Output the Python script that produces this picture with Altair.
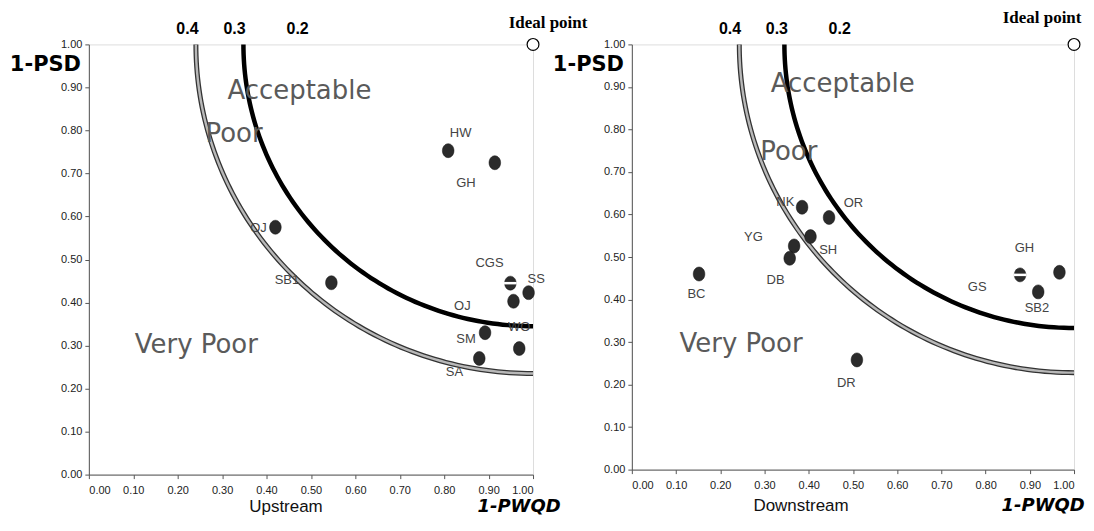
import numpy as np
import pandas as pd
import altair as alt

# ---------------- data ----------------
# Upstream panel
up_pt_x = [0.809, 0.914, 0.420, 0.546, 0.949, 0.956, 0.990, 0.892, 0.969, 0.879]
up_pt_y = [0.753, 0.725, 0.575, 0.446, 0.445, 0.403, 0.423, 0.330, 0.293, 0.270]
up_pt_half = [False, False, False, False, True, False, False, False, False, False]
up_lab_text = ["HW", "GH", "OJ", "SB1", "CGS", "OJ", "SS", "SM", "WO", "SA"]
up_lab_x = [0.837, 0.849, 0.382, 0.446, 0.902, 0.841, 1.007, 0.849, 0.969, 0.823]
up_lab_y = [0.794, 0.678, 0.574, 0.453, 0.493, 0.393, 0.455, 0.315, 0.342, 0.239]

# Downstream panel
dn_pt_x = [0.385, 0.446, 0.404, 0.367, 0.357, 0.152, 0.878, 0.967, 0.919, 0.509]
dn_pt_y = [0.617, 0.593, 0.548, 0.526, 0.497, 0.460, 0.458, 0.464, 0.418, 0.258]
dn_pt_half = [False, False, False, False, False, False, True, False, False, False]
dn_lab_text = ["NK", "OR", "SH", "YG", "DB", "BC", "GH", "GS", "SB2", "DR"]
dn_lab_x = [0.347, 0.501, 0.444, 0.275, 0.325, 0.146, 0.888, 0.781, 0.916, 0.485]
dn_lab_y = [0.630, 0.626, 0.517, 0.548, 0.447, 0.414, 0.521, 0.430, 0.380, 0.204]

# iso-distance curves around the ideal point (1,1): [rx, ry]
up_thick_r = [0.652, 0.655]
up_gray_r = [0.759, 0.765]
dn_thick_r = [0.655, 0.667]
dn_gray_r = [0.757, 0.772]

# distance labels above the top border
dist_text = ["0.4", "0.3", "0.2"]
dist_x = [0.222, 0.328, 0.470]

# zone labels [text, x-center, y-center]
zone_text = ["Acceptable", "Poor", "Very Poor"]
up_zone_x = [0.474, 0.327, 0.242]
up_zone_y = [0.891, 0.792, 0.301]
dn_zone_x = [0.477, 0.355, 0.247]
dn_zone_y = [0.906, 0.747, 0.295]

ticks = [round(i * 0.1, 1) for i in range(11)]

ELLIPSE = "M0,-1 A0.83,1 0 1,1 0,1 A0.83,1 0 1,1 0,-1 Z"
SANS = "Liberation Sans"
NARROW = "Liberation Sans Narrow, Arial Narrow, Liberation Sans"


def arc(r):
    t = np.linspace(0, np.pi / 2, 91)
    return pd.DataFrame({"x": 1 - r[0] * np.cos(t), "y": 1 - r[1] * np.sin(t), "o": np.arange(91)})


def panel(pt_x, pt_y, pt_half, lab_text, lab_x, lab_y, thick_r, gray_r,
          zone_x, zone_y, w, h, xtitle, xtitle_x, xtitle_y, pwqd_x, pwqd_y,
          ideal_dx, ideal_dy):
    xs = alt.Scale(domain=[0, 1], nice=False, zero=False)
    ys = alt.Scale(domain=[0, 1], nice=False, zero=False)
    xax = alt.Axis(values=ticks, format=".2f", grid=False, labelFont=NARROW,
                   labelFontSize=11, labelColor="#222", tickColor="#555", tickSize=4,
                   domainColor="#555", labelPadding=6, title=xtitle, titleFont=SANS,
                   titleFontSize=17, titleFontWeight="normal", titleColor="#111",
                   titleX=xtitle_x, titleY=xtitle_y, titleAlign="center",
                   titleBaseline="middle")
    yax = alt.Axis(values=ticks, format=".2f", grid=False, labelFont=NARROW,
                   labelFontSize=11, labelColor="#222", tickColor="#555", tickSize=4,
                   domainColor="#555", labelPadding=3, title="1-PSD",
                   titleFont="DejaVu Sans", titleFontSize=21, titleFontWeight="bold",
                   titleColor="#000", titleAngle=0, titleX=-44, titleY=20,
                   titleAlign="center", titleBaseline="middle")

    pts = pd.DataFrame({"x": pt_x, "y": pt_y, "half": pt_half})
    labs = pd.DataFrame({"t": lab_text, "x": lab_x, "y": lab_y})
    zones = pd.DataFrame({"t": zone_text, "x": zone_x, "y": zone_y})
    dists = pd.DataFrame({"t": dist_text, "x": dist_x, "y": [1.0] * 3})
    ideal = pd.DataFrame({"x": [1.0], "y": [1.0], "t": ["Ideal point"]})

    base_x = alt.X("x:Q", scale=xs, axis=xax)
    base_y = alt.Y("y:Q", scale=ys, axis=yax)

    gray_out = alt.Chart(arc(gray_r)).mark_line(color="#333", strokeWidth=5).encode(
        x=base_x, y=base_y, order="o:Q")
    gray_in = alt.Chart(arc(gray_r)).mark_line(color="#b8b8b8", strokeWidth=2.4).encode(
        x="x:Q", y="y:Q", order="o:Q")
    thick = alt.Chart(arc(thick_r)).mark_line(color="#000", strokeWidth=4.5).encode(
        x="x:Q", y="y:Q", order="o:Q")
    dots = alt.Chart(pts).mark_point(shape=ELLIPSE, filled=True, fill="#2b2b2b",
                                     opacity=1, size=196, stroke="#111",
                                     strokeWidth=0.5).encode(x="x:Q", y="y:Q")
    halfband = alt.Chart(pts).transform_filter("datum.half").mark_point(
        shape="M-1,0L1,0", filled=False, stroke="white", strokeWidth=2.5,
        size=160, opacity=1).encode(x="x:Q", y="y:Q")
    ideal_pt = alt.Chart(ideal).mark_point(shape="circle", filled=True, fill="white",
                                           stroke="#000", strokeWidth=1.2, size=140,
                                           opacity=1).encode(x="x:Q", y="y:Q")
    ideal_txt = alt.Chart(ideal).mark_text(font="Liberation Serif", fontWeight="bold",
                                           fontSize=17, color="#000", align="center",
                                           baseline="alphabetic", dx=ideal_dx,
                                           dy=ideal_dy).encode(x="x:Q", y="y:Q", text="t:N")
    lab_txt = alt.Chart(labs).mark_text(font=SANS, fontSize=13, color="#444",
                                        align="center", baseline="middle").encode(
        x="x:Q", y="y:Q", text="t:N")
    zone_txt = alt.Chart(zones).mark_text(font="DejaVu Sans", fontSize=26, color="#5a5a5a",
                                          align="center", baseline="middle").encode(
        x="x:Q", y="y:Q", text="t:N")
    dist_txt = alt.Chart(dists).mark_text(font=SANS, fontSize=16, fontWeight="bold",
                                          color="#000", align="center", baseline="middle",
                                          dy=-15).encode(x="x:Q", y="y:Q", text="t:N")
    pwqd = alt.Chart(ideal).mark_text(font="DejaVu Sans", fontSize=18, fontWeight="bold",
                                      fontStyle="italic", color="#000", align="center",
                                      baseline="middle").encode(
        x=alt.value(pwqd_x), y=alt.value(pwqd_y), text=alt.value("1-PWQD"))

    return alt.layer(gray_out, gray_in, thick, dots, halfband, zone_txt, lab_txt,
                     ideal_pt, ideal_txt, dist_txt, pwqd).properties(width=w, height=h)


left = panel(up_pt_x, up_pt_y, up_pt_half, up_lab_text, up_lab_x, up_lab_y,
             up_thick_r, up_gray_r, up_zone_x, up_zone_y, 445, 431,
             "Upstream", 197, 32, 431, 463, 15, -16)
right = panel(dn_pt_x, dn_pt_y, dn_pt_half, dn_lab_text, dn_lab_x, dn_lab_y,
              dn_thick_r, dn_gray_r, dn_zone_x, dn_zone_y, 443, 426,
              "Downstream", 169, 36, 412, 462, -32, -21)

chart = alt.hconcat(left, right, spacing=99, bounds="flush").properties(
    padding={"left": 0, "top": 0, "right": 0, "bottom": 0}
).configure_view(stroke="#777", strokeWidth=1).configure(background="white")

chart.save("out.html", embed_options={"renderer": "svg", "actions": False})
